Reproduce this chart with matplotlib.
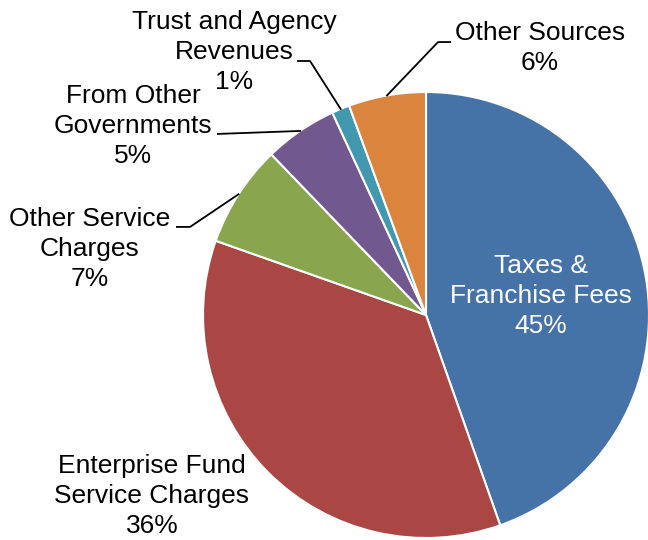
"""
Revenue sources pie chart with outside labels and leader lines.
"""

import numpy as np
import matplotlib
matplotlib.use("Agg")
import matplotlib.pyplot as plt

plt.rcParams['font.family'] = ['Liberation Sans', 'DejaVu Sans']

labels = ['Taxes &\nFranchise Fees',
          'Enterprise Fund\nService Charges',
          'Other Service\nCharges',
          'From Other\nGovernments',
          'Trust and Agency\nRevenues',
          'Other Sources']
values = [44.6, 35.8, 7.4, 5.3, 1.3, 5.6]
colors = ['#4572A7', '#AA4643', '#89A54E', '#71588F', '#4198AF', '#DB843D']

# label centres (data units, pie radius = 1)
label_pos = [(0.516, 0.085), (-1.229, -0.812), (-1.507, 0.296),
             (-1.314, 0.848), (-0.861, 1.179), (0.511, 1.197)]
# leader line points after the wedge edge anchor (None = no leader)
leaders = [None, None,
           [(-1.058, 0.395), (-1.117, 0.395)],
           [(-0.933, 0.812)],
           [(-0.520, 1.139), (-0.574, 1.139)],
           [(0.054, 1.224), (0.108, 1.224)]]

fig = plt.figure(figsize=(6.48, 5.4), dpi=100)
ax = fig.add_axes([0, 0, 1, 1])

wedges, _ = ax.pie(values, colors=colors, startangle=90, counterclock=False,
                   radius=1, wedgeprops=dict(edgecolor='white', linewidth=1.5))

# pie() resets the limits, so set them afterwards (223 px per unit)
ax.set_xlim(-426 / 223, 222 / 223)
ax.set_ylim(-225 / 223, 315 / 223)
ax.axis('off')

for i, w in enumerate(wedges):
    pct = '%.0f%%' % values[i]
    x, y = label_pos[i]
    col = 'white' if i == 0 else 'black'
    ax.text(x, y, labels[i] + '\n' + pct, ha='center', va='center',
            fontsize=19, color=col, linespacing=1.33)
    if leaders[i] is not None:
        mid = np.deg2rad((w.theta1 + w.theta2) / 2)
        pts = [(np.cos(mid), np.sin(mid))] + leaders[i]
        xs, ys = zip(*pts)
        ax.plot(xs, ys, color='black', lw=1.3)

fig.savefig('out.png', dpi=100)
